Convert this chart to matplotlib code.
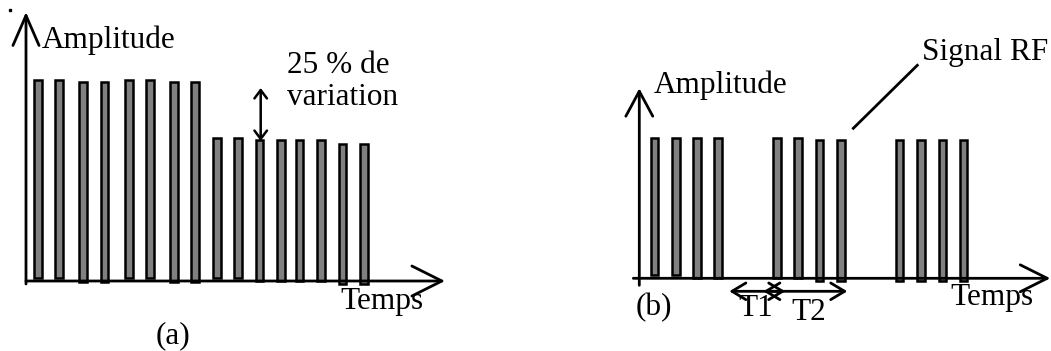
import numpy as np
from matplotlib import pyplot as plt

plt.rcParams['font.family'] = ['Liberation Serif', 'DejaVu Serif']

# (a) impulsions avec 25 % de variation d'amplitude
t_a = [12, 33, 57, 78.5, 103, 124, 148, 169, 191, 212, 233.5, 255, 273.5, 295, 316.5, 338]
top_a = [201, 201, 199, 199, 201, 201, 199, 199, 143, 143, 141, 141, 141, 141, 137, 137]
base_a = [3, 3, -1, -1, 3, 3, -1, -1, 3, 3, 0, 0, 0, 0, -3, -3]

# (b) trois salves de 4 impulsions (T1 / T2)
t_b = [15, 36.5, 57.5, 78.5, 137.5, 158.5, 180, 201.5, 260, 281.5, 303, 324]
top_b = [140.5, 140.5, 140.5, 140.5, 140.5, 140.5, 138, 138, 138, 138, 138, 138]
base_b = [3, 3, 0, 0, 0, 0, -3, -3, -3, -3, -3, -3]

fs = 22.5
gris = '#808080'

fig = plt.figure(figsize=(10.51, 3.51), dpi=100)

# ---------- (a) ----------
ax = fig.add_axes([0, 0, 520 / 1051, 1])
ax.set_xlim(-26, 494)
ax.set_ylim(-70, 281)
ax.axis('off')

h_a = np.array(top_a) - np.array(base_a)
ax.bar(t_a, h_a, width=7.5, bottom=base_a, color=gris, edgecolor='black', linewidth=1.8)

ax.annotate('', xy=(0, 269), xytext=(0, -3),
            arrowprops=dict(arrowstyle='->,head_length=2.16,head_width=0.94', lw=2,
                            shrinkA=0, shrinkB=0, color='black'))
ax.annotate('', xy=(419, 0), xytext=(0, 0),
            arrowprops=dict(arrowstyle='->,head_length=2.16,head_width=1.08', lw=2,
                            shrinkA=0, shrinkB=0, color='black'))
ax.annotate('', xy=(234.7, 193), xytext=(234.7, 140),
            arrowprops=dict(arrowstyle='<->,head_length=0.6,head_width=0.45', lw=1.8,
                            shrinkA=0, shrinkB=0, color='black'))

ax.text(16, 233, 'Amplitude', fontsize=fs, ha='left', va='baseline')
ax.text(261, 208, '25 % de', fontsize=fs, ha='left', va='baseline')
ax.text(261, 176, 'variation', fontsize=fs, ha='left', va='baseline')
ax.text(314, -28, 'Temps', fontsize=fs, ha='left', va='baseline')
ax.text(147, -55, '(a)', fontsize=fs, ha='center', va='center')
ax.plot([-16], [271], marker='s', markersize=2, color='black')

# ---------- (b) ----------
ax2 = fig.add_axes([520 / 1051, 0, 531 / 1051, 1])
ax2.set_xlim(-119.3, 411.7)
ax2.set_ylim(-72.7, 278.3)
ax2.axis('off')

h_b = np.array(top_b) - np.array(base_b)
ax2.bar(t_b, h_b, width=7.5, bottom=base_b, color=gris, edgecolor='black', linewidth=1.8)

ax2.annotate('', xy=(0, 190), xytext=(0, -7),
             arrowprops=dict(arrowstyle='->,head_length=1.8,head_width=0.97', lw=2,
                             shrinkA=0, shrinkB=0, color='black'))
ax2.annotate('', xy=(411, 0), xytext=(-6, 0),
             arrowprops=dict(arrowstyle='->,head_length=1.94,head_width=0.97', lw=2,
                             shrinkA=0, shrinkB=0, color='black'))

# T1 et T2
ax2.annotate('', xy=(90, -13), xytext=(146, -13),
             arrowprops=dict(arrowstyle='<->,head_length=1.0,head_width=0.6', lw=2,
                             shrinkA=0, shrinkB=0, color='black'))
ax2.annotate('', xy=(124, -13), xytext=(208, -13),
             arrowprops=dict(arrowstyle='<->,head_length=1.0,head_width=0.6', lw=2,
                             shrinkA=0, shrinkB=0, color='black'))
ax2.text(99, -38, 'T1', fontsize=fs, ha='left', va='baseline')
ax2.text(152, -42, 'T2', fontsize=fs, ha='left', va='baseline')

# legende Signal RF
ax2.plot([214, 278], [150, 213], color='black', lw=2)
ax2.text(283, 218, 'Signal RF', fontsize=fs, ha='left', va='baseline')

ax2.text(14, 185.5, 'Amplitude', fontsize=fs, ha='left', va='baseline')
ax2.text(311, -27, 'Temps', fontsize=fs, ha='left', va='baseline')
ax2.text(-4, -29, '(b)', fontsize=fs, ha='left', va='center')

plt.savefig('out.png', dpi=100)
